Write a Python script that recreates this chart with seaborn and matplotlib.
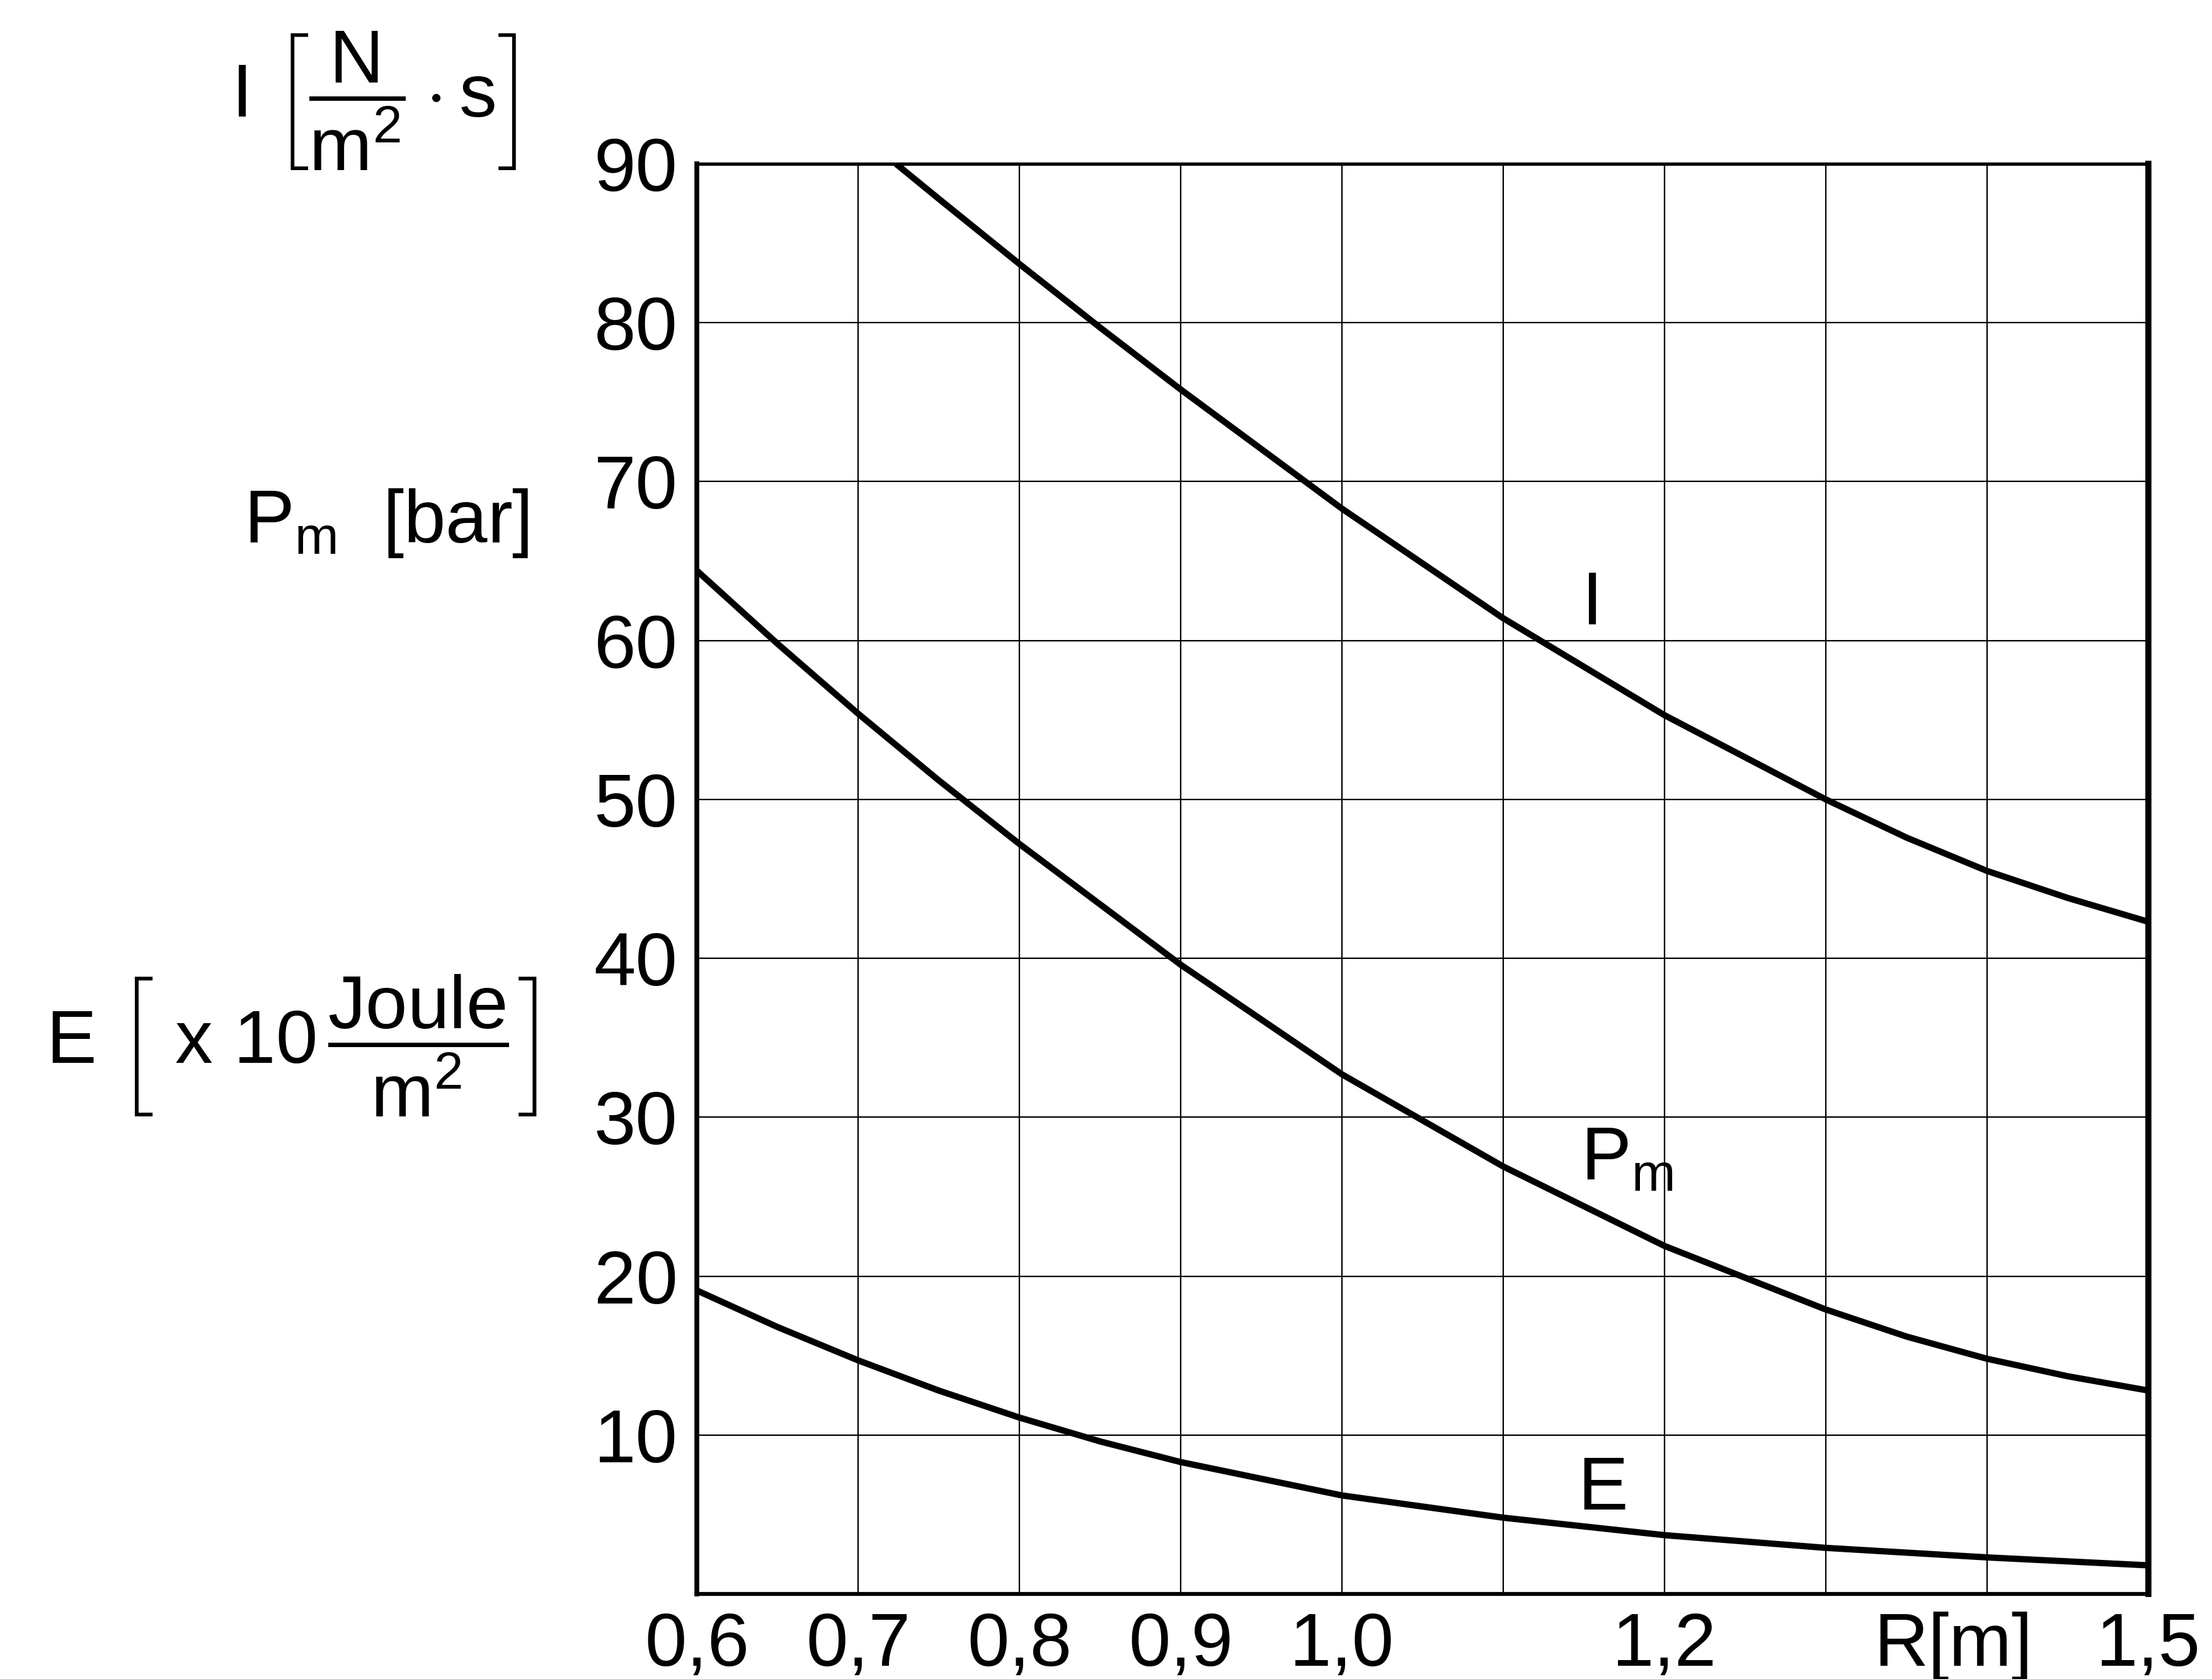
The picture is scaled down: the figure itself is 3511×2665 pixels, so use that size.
import numpy as np
import pandas as pd
import matplotlib
matplotlib.use("Agg")
import matplotlib.pyplot as plt
import matplotlib.transforms as mtransforms
import seaborn as sns

# Radius R [m] and the three curves
r_I = [0.7235, 0.75, 0.8, 0.85, 0.9, 1.0, 1.1, 1.2, 1.3, 1.35, 1.4, 1.45, 1.5]
val_I = [90.0, 87.8, 83.7, 79.7, 75.8, 68.3, 61.4, 55.3, 50.0, 47.6, 45.5, 43.8, 42.3]

r_Pm = [0.6, 0.65, 0.7, 0.75, 0.8, 0.9, 1.0, 1.1, 1.2, 1.3, 1.35, 1.4, 1.45, 1.5]
val_Pm = [64.4, 59.8, 55.4, 51.2, 47.2, 39.6, 32.7, 26.9, 21.9, 17.9, 16.2, 14.8, 13.7, 12.8]

r_E = [0.6, 0.65, 0.7, 0.75, 0.8, 0.85, 0.9, 1.0, 1.1, 1.2, 1.3, 1.4, 1.5]
val_E = [19.1, 16.8, 14.7, 12.8, 11.1, 9.6, 8.3, 6.2, 4.8, 3.7, 2.9, 2.3, 1.8]

x_ticks = [0.6, 0.7, 0.8, 0.9, 1.0, 1.1, 1.2, 1.3, 1.4, 1.5]
x_ticklabels = ["0,6", "0,7", "0,8", "0,9", "1,0", "", "1,2", "", "", "1,5"]
y_ticks = [10, 20, 30, 40, 50, 60, 70, 80, 90]
y_ticklabels = ["10", "20", "30", "40", "50", "60", "70", "80", "90"]

df = pd.concat([
    pd.DataFrame({"R": r_I, "value": val_I, "curve": "I"}),
    pd.DataFrame({"R": r_Pm, "value": val_Pm, "curve": "Pm"}),
    pd.DataFrame({"R": r_E, "value": val_E, "curve": "E"}),
], ignore_index=True)

sns.set_theme(style="white")
plt.rcParams["font.family"] = ["Liberation Sans", "DejaVu Sans"]
plt.rcParams["mathtext.fontset"] = "custom"
plt.rcParams["mathtext.rm"] = "Liberation Sans"
plt.rcParams["mathtext.it"] = "Liberation Sans:italic"
plt.rcParams["mathtext.bf"] = "Liberation Sans:bold"
for key in ["text.color", "axes.labelcolor", "xtick.color", "ytick.color", "axes.edgecolor"]:
    plt.rcParams[key] = "black"

W, H = 3511, 2665
fig = plt.figure(figsize=(W / 100, H / 100), dpi=100)
fig.patch.set_facecolor("white")
ax = fig.add_axes([1106 / W, 1 - 2530 / H, (3410 - 1106) / W, (2530 - 260) / H])

sns.lineplot(data=df, x="R", y="value", hue="curve",
             palette={"I": "black", "Pm": "black", "E": "black"},
             estimator=None, sort=False, legend=False, linewidth=7.2, ax=ax,
             zorder=5)
for ln in ax.lines:
    ln.set_solid_joinstyle("round")
    ln.set_solid_capstyle("butt")

ax.set_xlim(0.6, 1.5)
ax.set_ylim(0, 90)
ax.set_xticks(x_ticks)
ax.set_xticklabels(x_ticklabels)
ax.set_yticks(y_ticks)
ax.set_yticklabels(y_ticklabels)
ax.set_xlabel("")
ax.set_ylabel("")

fs = 86
ax.tick_params(axis="both", length=0, labelsize=fs, colors="black")
ax.tick_params(axis="x", pad=20)
ax.tick_params(axis="y", pad=22)

ax.grid(True, color="black", linewidth=1.6)
ax.set_axisbelow(True)
ax.set_facecolor("white")
for side, lw in {"left": 5.5, "right": 7.0, "top": 3.8, "bottom": 4.5}.items():
    ax.spines[side].set_visible(True)
    ax.spines[side].set_color("black")
    ax.spines[side].set_linewidth(lw)

# axis name for R, sitting on the tick-label row
rlab_tr = mtransforms.offset_copy(ax.get_xaxis_transform(), fig=fig, y=-20, units="points")
ax.text(1.379, 0, "R[m]", transform=rlab_tr, ha="center", va="top", fontsize=fs)

# curve names
ax.text(1.149, 61.0, "I", fontsize=fs, ha="left", va="baseline")
ax.text(1.148, 26.1, r"$\mathrm{P_m}$", fontsize=fs, ha="left", va="baseline")
ax.text(1.146, 5.3, "E", fontsize=fs, ha="left", va="baseline")

# quantity names with units on the left
fig.text(820 / W, 1 - 160 / H,
         r"$\mathrm{I}\ \left[\dfrac{\mathrm{N}}{\mathrm{m^2}}\cdot\mathrm{s}\right]$",
         fontsize=fs, ha="right", va="center")
fig.text(840 / W, 1 - 861 / H, r"$\mathrm{P_m}$  [bar]",
         fontsize=fs, ha="right", va="baseline")
fig.text(853 / W, 1 - 1660 / H,
         r"$\mathrm{E}\ \left[\ \mathrm{x\ 10}\,\dfrac{\mathrm{Joule}}{\mathrm{m^2}}\right]$",
         fontsize=fs, ha="right", va="center")

fig.savefig("out.png", dpi=100, facecolor="white")
